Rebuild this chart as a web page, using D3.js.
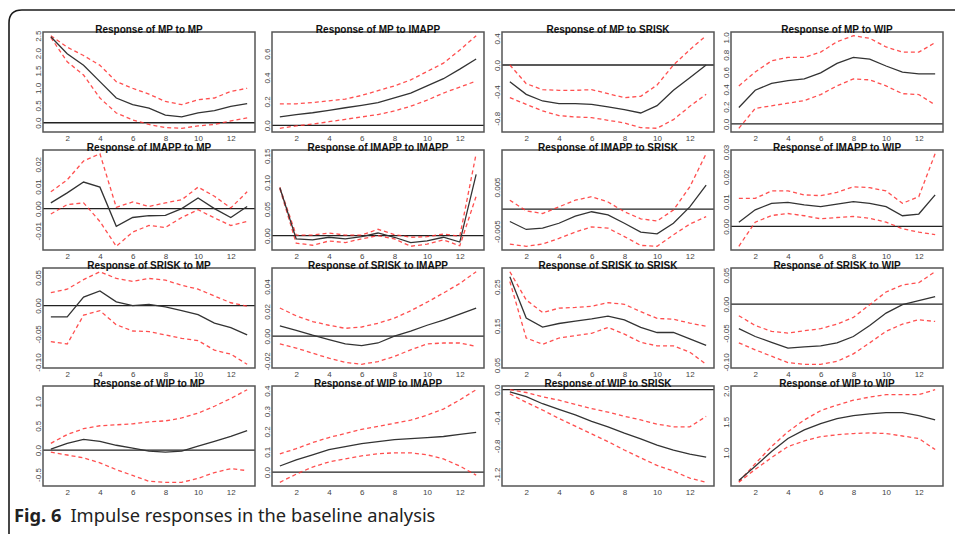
<!DOCTYPE html>
<html>
<head>
<meta charset="utf-8">
<script src="https://cdn.jsdelivr.net/npm/d3@7"></script>
<style>
html,body{margin:0;padding:0;background:#fff;}
svg{display:block;}
</style>
</head>
<body>
<svg id="chart" width="955" height="534"></svg>
<script>
// ---------- data ----------
const horizons = [1,2,3,4,5,6,7,8,9,10,11,12,13];
const xTickLabels = ["2","4","6","8","10","12"];
const variables = ["MP","IMAPP","SRISK","WIP"];

// Row 1: response of MP
const mpMpMean  = [2.47,1.98,1.65,1.18,0.71,0.52,0.42,0.22,0.17,0.28,0.35,0.47,0.55];
const mpMpUpper = [2.50,2.17,1.93,1.65,1.18,0.99,0.82,0.61,0.52,0.66,0.71,0.90,0.99];
const mpMpLower = [2.45,1.75,1.37,0.71,0.28,0.08,-0.05,-0.14,-0.16,-0.09,-0.05,0.05,0.14];
const mpMpTicks = ["0.0","0.5","1.0","1.5","2.0","2.5"];

const mpImappMean  = [0.07,0.089,0.105,0.125,0.147,0.167,0.19,0.23,0.27,0.33,0.39,0.47,0.555];
const mpImappUpper = [0.18,0.18,0.19,0.205,0.22,0.25,0.29,0.33,0.38,0.45,0.52,0.63,0.75];
const mpImappLower = [-0.025,-0.005,0.01,0.03,0.05,0.07,0.09,0.12,0.16,0.21,0.27,0.32,0.37];
const mpImappTicks = ["0.0","0.2","0.4","0.6"];

const mpSriskMean  = [-0.25,-0.44,-0.54,-0.58,-0.58,-0.59,-0.63,-0.67,-0.72,-0.61,-0.38,-0.19,0.0];
const mpSriskUpper = [0.0,-0.28,-0.37,-0.38,-0.38,-0.37,-0.43,-0.49,-0.47,-0.30,0.0,0.23,0.44];
const mpSriskLower = [-0.49,-0.59,-0.69,-0.76,-0.78,-0.79,-0.83,-0.87,-0.94,-0.95,-0.82,-0.62,-0.44];
const mpSriskTicks = ["-0.8","-0.4","0.0","0.4"];

const mpWipMean  = [0.19,0.39,0.47,0.50,0.52,0.59,0.70,0.77,0.75,0.67,0.60,0.58,0.58];
const mpWipUpper = [0.44,0.60,0.73,0.77,0.77,0.83,0.95,1.02,0.99,0.89,0.83,0.83,0.94];
const mpWipLower = [-0.05,0.18,0.21,0.24,0.27,0.34,0.44,0.52,0.51,0.44,0.35,0.34,0.22];
const mpWipTicks = ["0.0","0.2","0.4","0.6","0.8","1.0"];

// Row 2: response of IMAPP
const imappMpMean  = [0.0026,0.0071,0.012,0.0097,-0.008,-0.004,-0.0032,-0.003,0.0,0.0048,0.0,-0.004,0.001];
const imappMpUpper = [0.0076,0.013,0.0215,0.0248,0.0006,0.003,0.001,0.0026,0.004,0.0097,0.0056,0.0003,0.0076];
const imappMpLower = [-0.0024,0.0018,0.0026,-0.0058,-0.017,-0.0106,-0.0076,-0.0085,-0.004,-0.0005,-0.0042,-0.0076,-0.0058];
const imappMpTicks = ["-0.01","0.00","0.01","0.02"];

const imappImappMean  = [0.09,-0.006,-0.008,-0.003,-0.006,-0.002,0.005,-0.003,-0.013,-0.010,-0.003,-0.012,0.115];
const imappImappUpper = [0.091,0.001,0.001,0.005,0.001,0.001,0.012,0.002,-0.003,-0.002,0.003,-0.001,0.154];
const imappImappLower = [0.088,-0.014,-0.018,-0.010,-0.013,-0.006,0.0,-0.006,-0.020,-0.016,-0.008,-0.019,0.074];
const imappImappTicks = ["0.00","0.05","0.10","0.15"];

const imappSriskMean  = [-0.0028,-0.0046,-0.0043,-0.0032,-0.0016,-0.0006,-0.0013,-0.0032,-0.0052,-0.0056,-0.0032,0.0005,0.0054];
const imappSriskUpper = [0.002,-0.0004,-0.001,0.0005,0.002,0.0028,0.0016,-0.0006,-0.0022,-0.0027,-0.0002,0.005,0.0125];
const imappSriskLower = [-0.0079,-0.0084,-0.0079,-0.0066,-0.0052,-0.004,-0.0043,-0.0062,-0.0082,-0.0084,-0.0058,-0.0034,-0.0017];
const imappSriskTicks = ["-0.005","0.005"];

const imappWipMean  = [0.0017,0.0067,0.0093,0.0097,0.0087,0.008,0.009,0.010,0.0093,0.008,0.0043,0.005,0.0127];
const imappWipUpper = [0.0113,0.0113,0.0143,0.0143,0.0127,0.0124,0.0137,0.016,0.0156,0.0143,0.0093,0.012,0.0293];
const imappWipLower = [-0.008,0.0017,0.0044,0.0052,0.0043,0.0031,0.0036,0.004,0.0033,0.0017,-0.0009,-0.0023,-0.0033];
const imappWipTicks = ["0.00","0.01","0.02","0.03"];

// Row 3: response of SRISK
const sriskMpMean  = [-0.020,-0.020,0.015,0.026,0.0065,0.0,0.002,-0.0024,-0.009,-0.016,-0.031,-0.039,-0.052];
const sriskMpUpper = [0.023,0.029,0.046,0.060,0.048,0.043,0.048,0.045,0.036,0.029,0.017,0.005,-0.001];
const sriskMpLower = [-0.064,-0.068,-0.017,-0.009,-0.034,-0.045,-0.046,-0.052,-0.058,-0.062,-0.079,-0.086,-0.104];
const sriskMpTicks = ["-0.10","-0.05","0.00","0.05"];

const sriskImappMean  = [0.0082,0.0047,0.0008,-0.0027,-0.0063,-0.0077,-0.0055,0.0,0.0041,0.0088,0.0129,0.0178,0.0227];
const sriskImappUpper = [0.0227,0.0164,0.0118,0.0088,0.0063,0.0074,0.0104,0.0145,0.0205,0.0274,0.0348,0.0425,0.052];
const sriskImappLower = [-0.0063,-0.0096,-0.0137,-0.0178,-0.0211,-0.0227,-0.0205,-0.0164,-0.011,-0.0063,-0.0055,-0.0055,-0.0082];
const sriskImappTicks = ["-0.02","0.00","0.02","0.04"];

const sriskSriskMean  = [0.275,0.17,0.147,0.156,0.162,0.168,0.175,0.165,0.146,0.133,0.133,0.117,0.10];
const sriskSriskUpper = [0.288,0.216,0.184,0.195,0.197,0.20,0.209,0.205,0.186,0.169,0.167,0.157,0.149];
const sriskSriskLower = [0.263,0.119,0.103,0.119,0.125,0.131,0.146,0.129,0.108,0.099,0.099,0.083,0.052];
const sriskSriskTicks = ["0.05","0.15","0.25"];

const sriskWipMean  = [-0.0425,-0.056,-0.066,-0.076,-0.074,-0.072,-0.067,-0.056,-0.037,-0.0155,-0.001,0.006,0.013];
const sriskWipUpper = [-0.02,-0.037,-0.047,-0.05,-0.046,-0.0425,-0.0345,-0.023,-0.001,0.021,0.033,0.037,0.056];
const sriskWipLower = [-0.067,-0.079,-0.09,-0.101,-0.104,-0.104,-0.099,-0.086,-0.067,-0.047,-0.0345,-0.027,-0.03];
const sriskWipTicks = ["-0.10","-0.05","0.00","0.05"];

// Row 4: response of WIP
const wipMpMean  = [0.02,0.14,0.22,0.18,0.10,0.04,-0.02,-0.04,-0.02,0.08,0.18,0.28,0.40];
const wipMpUpper = [0.14,0.32,0.44,0.50,0.52,0.54,0.58,0.60,0.66,0.76,0.90,1.06,1.24];
const wipMpLower = [-0.04,-0.10,-0.16,-0.26,-0.40,-0.52,-0.64,-0.66,-0.66,-0.58,-0.46,-0.38,-0.42];
const wipMpTicks = ["-0.5","0.0","0.5","1.0"];

const wipImappMean  = [0.03,0.06,0.085,0.11,0.125,0.14,0.15,0.16,0.165,0.17,0.175,0.185,0.195];
const wipImappUpper = [0.09,0.115,0.145,0.17,0.19,0.21,0.225,0.24,0.255,0.28,0.31,0.355,0.405];
const wipImappLower = [-0.05,-0.01,0.025,0.05,0.065,0.08,0.09,0.095,0.095,0.085,0.065,0.03,-0.015];
const wipImappTicks = ["0.0","0.1","0.2","0.3","0.4"];

const wipSriskMean  = [-0.03,-0.10,-0.20,-0.28,-0.36,-0.45,-0.53,-0.62,-0.70,-0.79,-0.86,-0.92,-0.96];
const wipSriskUpper = [0.0,-0.04,-0.10,-0.15,-0.21,-0.27,-0.32,-0.38,-0.43,-0.49,-0.53,-0.53,-0.38];
const wipSriskLower = [-0.06,-0.18,-0.29,-0.41,-0.52,-0.63,-0.74,-0.86,-0.97,-1.08,-1.16,-1.26,-1.32];
const wipSriskTicks = ["-1.2","-0.8","-0.4","0.0"];

const wipWipMean  = [0.55,0.78,1.02,1.23,1.37,1.47,1.55,1.60,1.63,1.65,1.65,1.60,1.53];
const wipWipUpper = [0.53,0.82,1.10,1.34,1.53,1.68,1.77,1.85,1.90,1.94,1.94,1.94,2.02];
const wipWipLower = [0.52,0.73,0.92,1.10,1.19,1.26,1.29,1.31,1.32,1.31,1.27,1.23,1.05];
const wipWipTicks = ["1.0","1.5","2.0"];

const panelData = [
  [mpMpMean,mpMpUpper,mpMpLower,mpMpTicks],
  [mpImappMean,mpImappUpper,mpImappLower,mpImappTicks],
  [mpSriskMean,mpSriskUpper,mpSriskLower,mpSriskTicks],
  [mpWipMean,mpWipUpper,mpWipLower,mpWipTicks],
  [imappMpMean,imappMpUpper,imappMpLower,imappMpTicks],
  [imappImappMean,imappImappUpper,imappImappLower,imappImappTicks],
  [imappSriskMean,imappSriskUpper,imappSriskLower,imappSriskTicks],
  [imappWipMean,imappWipUpper,imappWipLower,imappWipTicks],
  [sriskMpMean,sriskMpUpper,sriskMpLower,sriskMpTicks],
  [sriskImappMean,sriskImappUpper,sriskImappLower,sriskImappTicks],
  [sriskSriskMean,sriskSriskUpper,sriskSriskLower,sriskSriskTicks],
  [sriskWipMean,sriskWipUpper,sriskWipLower,sriskWipTicks],
  [wipMpMean,wipMpUpper,wipMpLower,wipMpTicks],
  [wipImappMean,wipImappUpper,wipImappLower,wipImappTicks],
  [wipSriskMean,wipSriskUpper,wipSriskLower,wipSriskTicks],
  [wipWipMean,wipWipUpper,wipWipLower,wipWipTicks]
];

// ---------- layout ----------
const colLeft = [43, 272, 502, 731];
const rowTop = [32, 150, 268, 386];
const panelW = 212, panelH = 100;
const FONT = "'Liberation Sans', Arial, Helvetica, sans-serif";

const svg = d3.select("#chart");

// outer frame (rounded top-left corner)
svg.append("path")
  .attr("d", "M9,534 L9,23 Q9,10 22,10 L955,10")
  .attr("fill", "none").attr("stroke", "#1a1a1a").attr("stroke-width", 1.6);

const defs = svg.append("defs");

panelData.forEach((pd, i) => {
  const row = Math.floor(i / 4), col = i % 4;
  const [mean, upper, lower, ticks] = pd;
  const x0 = colLeft[col], y0 = rowTop[row];
  const all = mean.concat(upper, lower);
  const lo = d3.min(all), hi = d3.max(all), pad = (hi - lo) * 0.04;
  const x = d3.scaleLinear().domain([1 - 0.48, 13 + 0.48]).range([x0, x0 + panelW]);
  const y = d3.scaleLinear().domain([lo - pad, hi + pad]).range([y0 + panelH, y0]);

  const clipId = "clip" + i;
  defs.append("clipPath").attr("id", clipId)
    .append("rect").attr("x", x0).attr("y", y0).attr("width", panelW).attr("height", panelH);

  const g = svg.append("g");
  const plot = g.append("g").attr("clip-path", `url(#${clipId})`);

  if (y.domain()[0] < 0 && y.domain()[1] > 0) {
    plot.append("line")
      .attr("x1", x0).attr("x2", x0 + panelW)
      .attr("y1", y(0)).attr("y2", y(0))
      .attr("stroke", "#222").attr("stroke-width", 1.3);
  }

  const line = d3.line().x((d, k) => x(horizons[k])).y(d => y(d));
  [upper, lower].forEach(s => {
    plot.append("path").datum(s).attr("d", line)
      .attr("fill", "none").attr("stroke", "#ff3030").attr("stroke-opacity", 0.85)
      .attr("stroke-width", 1.3).attr("stroke-dasharray", "4,3");
  });
  plot.append("path").datum(mean).attr("d", line)
    .attr("fill", "none").attr("stroke", "#333").attr("stroke-width", 1.3);

  // box
  g.append("rect").attr("x", x0).attr("y", y0).attr("width", panelW).attr("height", panelH)
    .attr("fill", "none").attr("stroke", "#555").attr("stroke-width", 1.5);

  // x axis
  const xa = g.append("g").attr("transform", `translate(0,${y0 + panelH})`)
    .call(d3.axisBottom(x).tickValues(xTickLabels.map(Number)).tickSize(0).tickPadding(3.2).tickFormat((d) => String(d)));
  xa.select(".domain").remove();
  xa.selectAll("text").attr("font-size", 8).attr("font-family", FONT).attr("fill", "#444");

  // y axis (rotated labels)
  const tickVals = ticks.map(Number);
  const ya = g.append("g").attr("transform", `translate(${x0},0)`)
    .call(d3.axisLeft(y).tickValues(tickVals).tickSize(0).tickFormat((d, k) => ticks[k]));
  ya.select(".domain").remove();
  ya.selectAll("text")
    .attr("x", 0).attr("y", -2.2).attr("dy", null)
    .attr("text-anchor", "middle")
    .attr("transform", "rotate(-90)")
    .attr("font-size", 8).attr("font-family", FONT).attr("fill", "#444");

  // title
  g.append("text")
    .attr("x", x0 + panelW / 2).attr("y", y0 + 0.8)
    .attr("text-anchor", "middle")
    .attr("font-family", FONT).attr("font-weight", "bold").attr("font-size", 10)
    .attr("fill", "#111")
    .text(`Response of ${variables[row]} to ${variables[col]}`);
});

// caption
const cap = svg.append("text").attr("x", 14).attr("y", 522)
  .attr("font-family", "'Noto Sans', 'Open Sans', sans-serif").attr("font-size", 18.3).attr("fill", "#222");
cap.append("tspan").attr("font-weight", "bold").text("Fig. 6");
cap.append("tspan").attr("dx", 9).text("Impulse responses in the baseline analysis");
</script>
</body>
</html>
